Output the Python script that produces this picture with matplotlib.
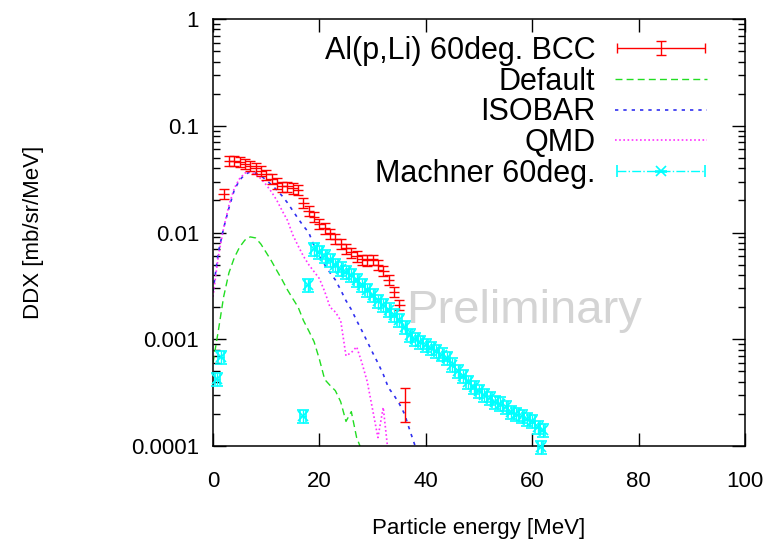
import numpy as np
import matplotlib.pyplot as plt
from matplotlib.legend_handler import HandlerErrorbar
from matplotlib.ticker import LogLocator, MultipleLocator, FuncFormatter, NullFormatter

plt.rcParams['font.family'] = ['Liberation Sans', 'DejaVu Sans']

# Al(p,Li) 60deg. measured with BCC
bcc_e = [2, 3, 4, 5, 6, 7, 8, 9, 10, 11, 12, 13, 14, 15, 16, 17, 18, 19, 20,
         21, 22, 23, 24, 25, 26, 27, 28, 29, 30, 31, 32, 33, 34, 35, 36]
bcc_ddx = [0.023, 0.047, 0.047, 0.046, 0.044, 0.042, 0.040, 0.038, 0.035, 0.032,
           0.029, 0.027, 0.027, 0.026, 0.025, 0.019, 0.016, 0.014, 0.012, 0.011,
           0.0098, 0.0087, 0.0078, 0.0071, 0.0065, 0.0060, 0.0056, 0.0055, 0.0056,
           0.0050, 0.0044, 0.0036, 0.0028, 0.0021, 0.00026]
bcc_rel_err = [0.11] * 34 + [0.35]

# Machner 60deg.
mach_e = [0.8, 1.5, 16.9, 17.8, 19, 20, 21, 22, 23, 24, 25, 26, 27, 28, 29, 30,
          31, 32, 33, 34, 35, 36, 37, 38, 39, 40, 41, 42, 43, 44, 45, 46, 47, 48,
          49, 50, 51, 52, 53, 54, 55, 56, 57, 58, 59, 60, 61, 61.6, 62]
mach_ddx = [0.00042, 0.00068, 0.00019, 0.0032, 0.0070, 0.0066, 0.0060, 0.0055,
            0.0050, 0.0046, 0.0043, 0.0040, 0.0036, 0.0032, 0.0029, 0.0026,
            0.0023, 0.0021, 0.0019, 0.0017, 0.0015, 0.0013, 0.0011, 0.0010,
            0.00094, 0.00088, 0.00082, 0.00077, 0.00072, 0.00067, 0.00058,
            0.00050, 0.00045, 0.00040, 0.00036, 0.00033, 0.00030, 0.00028,
            0.00026, 0.00025, 0.00023, 0.00021, 0.00020, 0.00019, 0.00018,
            0.00017, 0.00015, 0.000098, 0.00014]

# PHITS calculations
calc_e = list(range(0, 39))
default_ddx = [0.0006, 0.0012, 0.0025, 0.0042, 0.0058, 0.0073, 0.0085, 0.0091,
               0.0089, 0.0078, 0.0065, 0.0054, 0.0044, 0.0036, 0.0029, 0.0024,
               0.0020, 0.0015, 0.0012, 0.00095, 0.00065, 0.00042, 0.00037,
               0.00033, 0.00026, 0.00017, 0.00021, 0.00012, 0.00009]
isobar_ddx = [0.0028, 0.0065, 0.011, 0.017, 0.025, 0.031, 0.035, 0.037, 0.036,
              0.034, 0.031, 0.028, 0.025, 0.022, 0.019, 0.016, 0.0135, 0.0115,
              0.010, 0.0075, 0.006, 0.0050, 0.0042, 0.0036, 0.0029, 0.0023,
              0.0019, 0.0015, 0.0012, 0.00095, 0.00075, 0.0006, 0.00047, 0.00035,
              0.0003, 0.00025, 0.0002, 0.00014, 0.0001]
qmd_ddx = [0.0025, 0.006, 0.011, 0.018, 0.026, 0.032, 0.036, 0.037, 0.035, 0.032,
           0.028, 0.024, 0.020, 0.016, 0.013, 0.0095, 0.0075, 0.0060, 0.0050,
           0.0043, 0.0037, 0.0028, 0.0020, 0.0018, 0.0015, 0.0007, 0.00075,
           0.00085, 0.0006, 0.0004, 0.00022, 0.00012, 0.00023, 0.00008]

fig = plt.figure(figsize=(7.72, 5.39), dpi=100)
ax = fig.add_axes([0.2759, 0.1725, 0.6891, 0.7922])

ax.text(0.585, 0.288, 'Preliminary', transform=ax.transAxes, ha='center',
        va='baseline', fontsize=34, color='#d4d4d4', zorder=0.5)

bcc_ddx = np.array(bcc_ddx)
red = ax.errorbar(bcc_e, bcc_ddx, xerr=1.0, yerr=bcc_ddx * np.array(bcc_rel_err),
                  fmt='none', ecolor='#ff0000', elinewidth=1, capsize=3.5,
                  capthick=1, label='Al(p,Li) 60deg. BCC', zorder=3)

g, = ax.plot(calc_e[:len(default_ddx)], default_ddx, color='#22dd22', lw=1,
             dashes=(5, 3), label='Default')
b, = ax.plot(calc_e[:len(isobar_ddx)], isobar_ddx, color='#3030f0', lw=1.2,
             dashes=(2, 3), label='ISOBAR')
m, = ax.plot(calc_e[:len(qmd_ddx)], qmd_ddx, color='#ff30ff', lw=1.2,
             dashes=(1, 1.5), label='QMD')

mach_ddx = np.array(mach_ddx)
cyan = ax.errorbar(mach_e, mach_ddx, xerr=0.5, yerr=mach_ddx * 0.14,
                   fmt='x', ls='none', color='#00ffff', ms=7, mew=1.2,
                   elinewidth=1, capsize=4, capthick=1,
                   label='Machner 60deg.', zorder=4)
for art in [cyan[0], *cyan[1], *cyan[2]]:
    art.set_clip_on(False)

ax.set_xlim(0, 100)
ax.set_yscale('log')
ax.set_ylim(1e-4, 1)
ax.xaxis.set_major_locator(MultipleLocator(20))
ax.yaxis.set_major_locator(LogLocator(base=10))
ax.yaxis.set_minor_locator(LogLocator(base=10, subs=np.arange(2, 10)))
ax.yaxis.set_major_formatter(FuncFormatter(lambda v, p: '%g' % v))
ax.yaxis.set_minor_formatter(NullFormatter())

ax.tick_params(which='both', direction='in', top=True, right=True, width=1)
ax.tick_params(which='major', length=9.5)
ax.tick_params(which='minor', length=5)
ax.tick_params(axis='x', labelsize=16, pad=18)
ax.tick_params(axis='y', labelsize=16, pad=10)
for s in ax.spines.values():
    s.set_linewidth(1.1)

ax.set_xlabel('Particle energy [MeV]', fontsize=16)
ax.set_ylabel('DDX [mb/sr/MeV]', fontsize=16)
ax.xaxis.set_label_coords(0.5, -0.168)
ax.yaxis.set_label_coords(-0.318, 0.5)

# legend sample of Machner drawn dash-dot, as in the original
cyan[2][0].set_linestyle('-.')
ax.legend([red, g, b, m, cyan],
          ['Al(p,Li) 60deg. BCC', 'Default', 'ISOBAR', 'QMD', 'Machner 60deg.'],
          handler_map={red: HandlerErrorbar(xerr_size=1.45, yerr_size=0.22, numpoints=1),
                       cyan: HandlerErrorbar(xerr_size=1.45, yerr_size=0.01, numpoints=1)},
          loc='upper right', bbox_to_anchor=(0.9286, 0.9606), frameon=False,
          fontsize=22, markerfirst=False, alignment='right', handlelength=3.0,
          handletextpad=0.65, labelspacing=0.025, borderpad=0, borderaxespad=0)
cyan[2][0].set_linestyle('-')
# no caps on the horizontal bars of the BCC points
red[1][0].set_visible(False)
red[1][1].set_visible(False)

fig.savefig('out.png', dpi=100)
